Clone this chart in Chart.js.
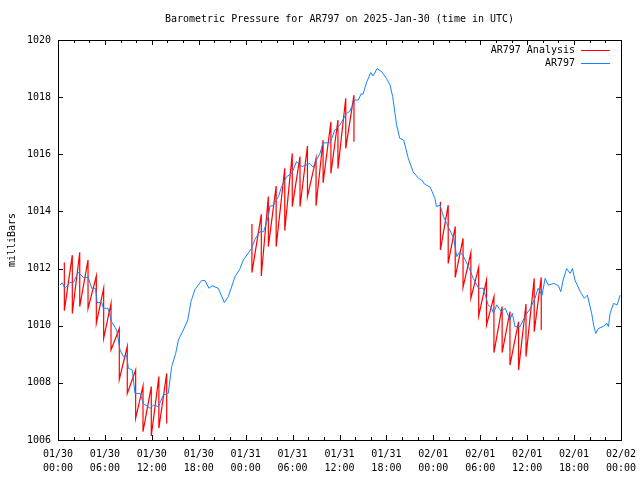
<!DOCTYPE html>
<html>
<head>
<meta charset="utf-8">
<title>Barometric Pressure for AR797</title>
<script src="https://cdn.jsdelivr.net/npm/chart.js@4.4.1/dist/chart.umd.min.js"></script>
<style>
  body { margin: 0; background: #fff; }
  canvas { display: block; }
</style>
</head>
<body>
<canvas id="pressureChart" width="640" height="480"></canvas>
<script>
// times are hours since 2025-01-30 00:00 UTC
const obsHours = [0.26, 0.55, 0.9, 1.5, 1.96, 2.6, 3.24, 3.88, 4.3, 4.8, 5.0, 5.6, 5.8, 6.4, 6.86, 7.5, 7.93,
  8.36, 8.78, 9.0, 9.5, 9.85, 10.5, 10.9, 11.77, 12.19, 12.83, 13.47, 14.1, 14.54, 15.05, 15.4, 16.03, 16.6,
  17.0, 17.52, 18.37, 18.8, 19.3, 19.7, 20.5, 21.27, 21.78, 22.64, 23.28, 23.7, 24.77, 25.2, 25.83, 26.3,
  26.9, 27.1, 27.5, 28.2, 28.6, 29.25, 29.9, 30.5, 31.2, 31.8, 32.2, 32.6, 33.5, 33.9, 34.8, 35.4, 36.07,
  36.9, 37.3, 37.98, 38.4, 38.8, 39.0, 39.5, 40.0, 40.3, 40.8, 41.4, 42.0, 42.46, 42.8, 43.1, 43.3, 43.7,
  44.2, 44.8, 45.4, 46.1, 46.5, 46.9, 47.6, 48.2, 48.4, 48.86, 49.3, 49.7, 50.1, 50.6, 51.0, 51.4, 51.8,
  52.5, 53.1, 53.8, 54.4, 54.7, 55.0, 55.47, 55.7, 56.1, 56.7, 57.2, 57.8, 58.1, 58.45, 59.1, 59.7, 60.4,
  61.0, 61.4, 61.9, 62.3, 62.7, 63.4, 64.0, 64.3, 64.6, 65.05, 65.5, 65.8, 66.1, 66.8, 67.3, 67.7, 68.25,
  68.5, 68.77, 69.1, 69.7, 70.2, 70.4, 70.6, 71.05, 71.5, 71.9];
const obsPressure = [1011.43, 1011.5, 1011.31, 1011.51, 1011.51, 1011.87, 1011.69, 1011.69, 1011.31, 1011.31,
  1010.81, 1010.81, 1010.61, 1010.61, 1010.14, 1009.85, 1009.15, 1008.92, 1008.97, 1008.51, 1008.45, 1007.63,
  1007.63, 1007.28, 1007.11, 1007.22, 1007.17, 1007.57, 1007.63, 1008.57, 1009.03, 1009.5, 1009.85, 1010.2,
  1010.84, 1011.27, 1011.58, 1011.58, 1011.31, 1011.4, 1011.31, 1010.81, 1011.02, 1011.72, 1012.0, 1012.3,
  1012.71, 1013.03, 1013.29, 1013.29, 1013.82, 1014.19, 1014.2, 1014.52, 1014.87, 1015.22, 1015.33, 1015.74,
  1015.57, 1015.63, 1015.68, 1015.55, 1016.03, 1016.4, 1016.4, 1016.85, 1017.03, 1017.43, 1017.5, 1017.9,
  1017.9, 1018.13, 1018.1, 1018.54, 1018.86, 1018.74, 1019.0, 1018.89, 1018.66, 1018.43, 1018.02, 1017.43,
  1017.03, 1016.56, 1016.5, 1015.86, 1015.39, 1015.16, 1015.1, 1014.95, 1014.85, 1014.46, 1014.17, 1014.22,
  1013.82, 1013.58, 1013.35, 1013.06, 1012.42, 1012.59, 1012.45, 1012.07, 1011.66, 1011.31, 1011.31, 1011.02,
  1010.73, 1010.61, 1010.43, 1010.73, 1010.49, 1010.61, 1010.2, 1010.43, 1009.97, 1009.97, 1010.32, 1010.61,
  1010.96, 1011.31, 1011.07, 1011.66, 1011.42, 1011.48, 1011.4, 1011.19, 1011.6, 1012.0, 1011.83, 1012.0,
  1011.6, 1011.19, 1010.96, 1011.07, 1010.43, 1010.02, 1009.73, 1009.9, 1009.97, 1010.08, 1009.97, 1010.43,
  1010.78, 1010.73, 1011.07];

// analysis runs: each hour jumps from a high value down to a low value
const anaHoursA = [0.81, 1.83, 2.78, 3.84, 4.9, 5.84, 6.78, 7.84, 8.86, 9.93, 10.87, 11.93, 12.9, 13.9];
const anaHighA = [1012.21, 1012.47, 1012.57, 1012.3, 1011.74, 1011.31, 1010.78, 1009.9, 1009.27, 1008.45, 1007.89, 1007.87, 1008.22, 1008.33];
const anaLowA = [1010.53, 1010.43, 1010.67, 1010.6, 1010.08, 1009.56, 1009.15, 1008.12, 1007.63, 1006.76, 1006.29, 1006.14, 1006.41, 1006.58];

const anaHoursB = [24.8, 26.0, 26.9, 27.9, 29.0, 29.96, 30.95, 31.9, 33.0, 33.9, 34.9, 35.8, 36.8, 37.85];
const anaHighB = [1013.56, 1013.9, 1014.52, 1014.89, 1015.51, 1016.03, 1015.92, 1016.29, 1015.86, 1016.5, 1017.14, 1017.2, 1017.96, 1018.07];
const anaLowB = [1011.86, 1011.74, 1012.77, 1012.77, 1013.33, 1014.17, 1014.17, 1014.52, 1014.2, 1015.0, 1015.33, 1015.5, 1016.21, 1016.44];

const anaHoursC = [48.9, 49.9, 50.8, 51.8, 52.8, 53.8, 54.8, 55.75, 56.8, 57.8, 58.9, 59.85, 60.9, 61.8];
const anaHighC = [1014.34, 1014.22, 1013.47, 1013.06, 1012.56, 1012.04, 1011.6, 1011.02, 1010.67, 1010.49, 1010.14, 1010.76, 1011.66, 1011.69];
const anaLowC = [1012.65, 1012.18, 1011.69, 1011.34, 1010.96, 1010.34, 1010.02, 1009.06, 1009.06, 1008.62, 1008.45, 1008.92, 1009.79, 1009.85];

const xTickDates = ["01/30", "01/30", "01/30", "01/30", "01/31", "01/31", "01/31", "01/31", "02/01", "02/01", "02/01", "02/01", "02/02"];
const xTickTimes = ["00:00", "06:00", "12:00", "18:00", "00:00", "06:00", "12:00", "18:00", "00:00", "06:00", "12:00", "18:00", "00:00"];

const FONT = "'DejaVu Sans Mono', 'Liberation Mono', monospace";

function sawtooth(hours, highs, lows) {
  const pts = [];
  hours.forEach((h, i) => {
    pts.push({ x: h, y: highs[i] });
    pts.push({ x: h, y: lows[i] });
  });
  // break the line after each run
  pts.push({ x: hours[hours.length - 1], y: null });
  return pts;
}

const analysisPoints = [].concat(
  sawtooth(anaHoursA, anaHighA, anaLowA),
  sawtooth(anaHoursB, anaHighB, anaLowB),
  sawtooth(anaHoursC, anaHighC, anaLowC)
);
const obsPoints = obsHours.map((h, i) => ({ x: h, y: obsPressure[i] }));

// gnuplot style frame, inward ticks and legend
const gnuplotBits = {
  id: "gnuplotBits",
  afterDatasetsDraw(chart) {
    const ctx = chart.ctx;
    const a = chart.chartArea;
    const xs = chart.scales.x;
    const ys = chart.scales.y;
    ctx.save();
    ctx.strokeStyle = "#000";
    ctx.lineWidth = 1;
    ctx.strokeRect(Math.round(a.left) + 0.5, Math.round(a.top) + 0.5,
      Math.round(a.right - a.left), Math.round(a.bottom - a.top));

    ctx.beginPath();
    xs.ticks.forEach((t) => {
      const px = Math.round(xs.getPixelForValue(t.value)) + 0.5;
      const len = t.value % 6 === 0 ? 5 : 3;
      ctx.moveTo(px, a.bottom);
      ctx.lineTo(px, a.bottom - len);
      ctx.moveTo(px, a.top);
      ctx.lineTo(px, a.top + len);
    });
    ys.ticks.forEach((t) => {
      const py = Math.round(ys.getPixelForValue(t.value)) + 0.5;
      ctx.moveTo(a.left, py);
      ctx.lineTo(a.left + 5, py);
      ctx.moveTo(a.right, py);
      ctx.lineTo(a.right - 5, py);
    });
    ctx.stroke();

    // legend, top right inside the plot
    const order = [1, 0];
    ctx.font = "10px " + FONT;
    ctx.textAlign = "right";
    ctx.textBaseline = "middle";
    order.forEach((di, row) => {
      const ds = chart.data.datasets[di];
      const y = 50 + row * 13;
      ctx.fillStyle = "#000";
      ctx.fillText(ds.label, 575, y);
      ctx.strokeStyle = ds.borderColor;
      ctx.beginPath();
      ctx.moveTo(581, y + 0.5);
      ctx.lineTo(610, y + 0.5);
      ctx.stroke();
    });
    ctx.restore();
  }
};

const ctx = document.getElementById("pressureChart").getContext("2d");
new Chart(ctx, {
  type: "line",
  data: {
    datasets: [
      {
        label: "AR797",
        data: obsPoints,
        borderColor: "#1482ff",
        borderWidth: 1,
        pointRadius: 0,
        tension: 0,
        fill: false,
        order: 0
      },
      {
        label: "AR797 Analysis",
        data: analysisPoints,
        borderColor: "#ff0000",
        borderWidth: 1.2,
        pointRadius: 0,
        tension: 0,
        fill: false,
        spanGaps: false,
        order: 1
      }
    ]
  },
  options: {
    responsive: false,
    animation: false,
    devicePixelRatio: 1,
    layout: { padding: { top: 0, right: 19, bottom: 0, left: 0 } },
    plugins: {
      legend: { display: false },
      tooltip: { enabled: false },
      title: {
        display: true,
        fullSize: false,
        text: "Barometric Pressure for AR797 on 2025-Jan-30 (time in UTC)",
        color: "#000",
        font: { family: FONT, size: 10, weight: "normal", lineHeight: 1.2 },
        padding: { top: 13, bottom: 15 }
      }
    },
    scales: {
      x: {
        type: "linear",
        min: 0,
        max: 72,
        grid: { display: false },
        border: { display: false },
        ticks: {
          stepSize: 2,
          autoSkip: false,
          maxRotation: 0,
          padding: -1,
          color: "#000",
          font: { family: FONT, size: 10, lineHeight: 1.4 },
          callback: (v) => (v % 6 === 0 ? [xTickDates[v / 6], xTickTimes[v / 6]] : "")
        },
        afterFit: (s) => { s.height = 40; }
      },
      y: {
        min: 1006,
        max: 1020,
        grid: { display: false },
        border: { display: false },
        ticks: {
          stepSize: 2,
          padding: -1,
          color: "#000",
          font: { family: FONT, size: 10 },
          callback: (v) => String(v)
        },
        title: {
          display: true,
          text: "milliBars",
          color: "#000",
          font: { family: FONT, size: 10 },
          padding: { top: 6, bottom: 0 }
        },
        afterFit: (s) => { s.width = 58; }
      }
    }
  },
  plugins: [gnuplotBits]
});
</script>
</body>
</html>
